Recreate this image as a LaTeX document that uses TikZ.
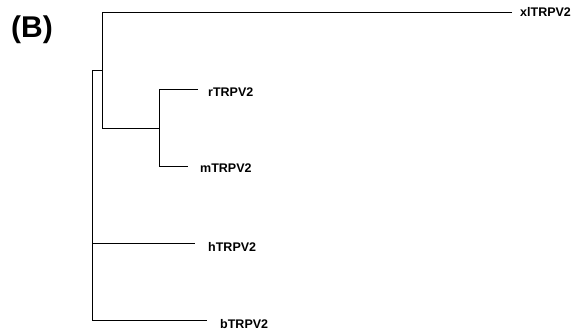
\documentclass[tikz,border=0pt]{standalone}
\usepackage{fontspec}
\setmainfont{Liberation Sans}
\usetikzlibrary{positioning}

\begin{document}
\begin{tikzpicture}[
            x=1pt, y=-1pt,
            branch/.style={draw, line width=0.8pt},
            leaf/.style={inner sep=0pt, font=\fontsize{12.5}{14}\selectfont\bfseries}
        ]
        \useasboundingbox (0,0) rectangle (581,330);
        \node[anchor=west, inner sep=0pt, font=\fontsize{30}{34}\selectfont\bfseries] (panel) at (11,30) {(B)};
        % joints of the tree
        \coordinate (root) at (92,70);
        \coordinate (rootH) at (92,243);
        \coordinate (rootB) at (92,320);
        \coordinate (top) at (102,70);
        \coordinate (topX) at (102,12);
        \coordinate (topC) at (102,128);
        \coordinate (rm) at (159,128);
        \coordinate (rmR) at (159,89);
        \coordinate (rmM) at (159,166);
        % branch ends
        \coordinate (xlE) at (512,12);
        \coordinate (rE) at (198,89);
        \coordinate (mE) at (188,166);
        \coordinate (hE) at (195,243);
        \coordinate (bE) at (207,320);
        % labels
        \node[leaf, right=8pt of xlE] (xl) {xlTRPV2};
        \node[leaf, right=10pt of rE, yshift=-3pt] (r) {rTRPV2};
        \node[leaf, right=12pt of mE, yshift=-2pt] (m) {mTRPV2};
        \node[leaf, right=13pt of hE, yshift=-4pt] (h) {hTRPV2};
        \node[leaf, right=13pt of bE, yshift=-4pt] (b) {bTRPV2};
        % branches
        \draw[branch] (root) -- (rootB) -- (bE);
        \draw[branch] (rootH) -- (hE);
        \draw[branch] (root) -- (top);
        \draw[branch] (xlE) -- (topX) -- (topC) -- (rm);
        \draw[branch] (rE) -- (rmR) -- (rmM) -- (mE);
    \end{tikzpicture}
\end{document}
